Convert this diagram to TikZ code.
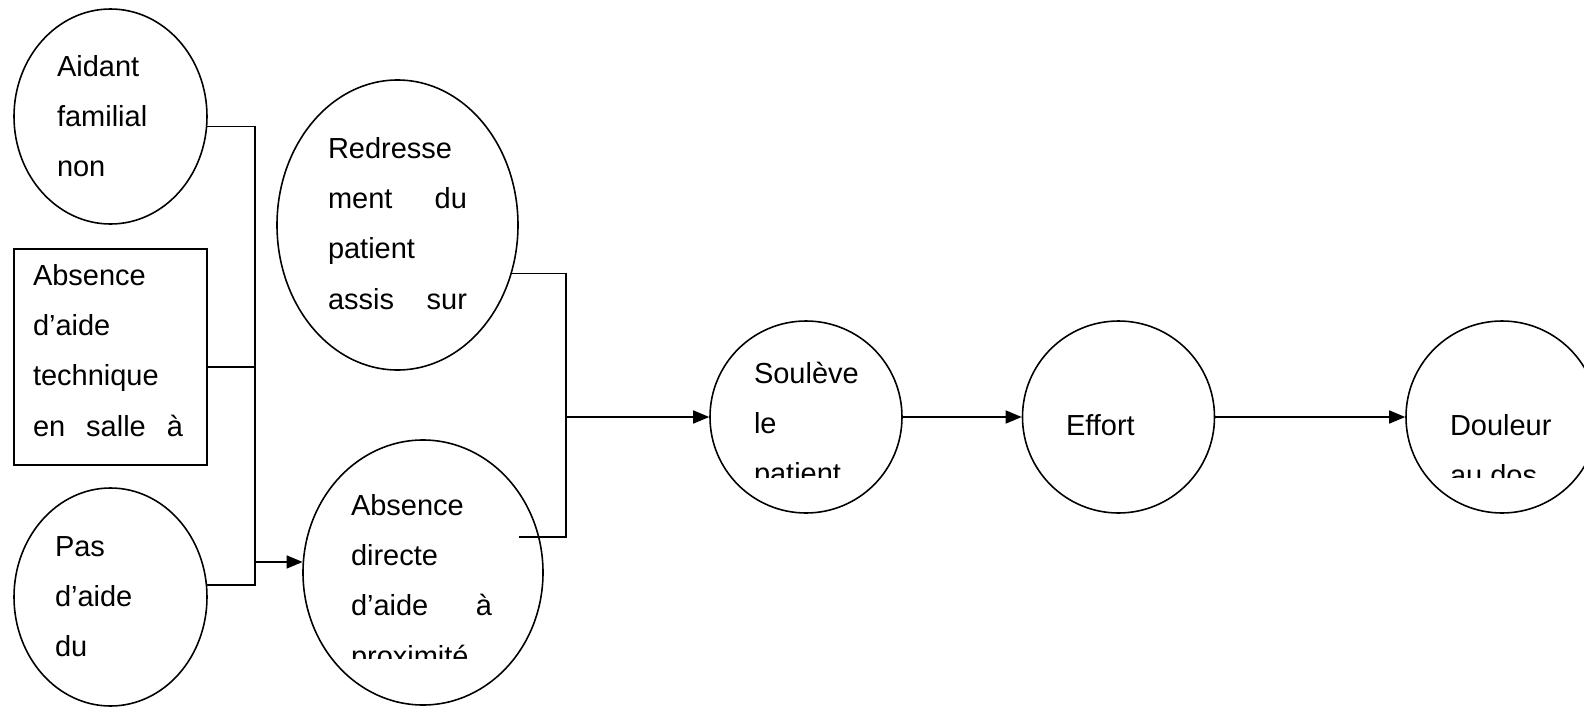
\documentclass[tikz,border=0pt]{standalone}
\usepackage{fontspec}
\setmainfont{Liberation Sans}
\usepackage{trimclip}
\usepackage{tikz}
\usetikzlibrary{positioning}
\usetikzlibrary{shapes,shapes.geometric,arrows.meta}
\tikzstyle{bubble} = [ellipse, draw, line width=0.9pt, inner sep=0pt, font=\fontsize{16.5}{28.7}\selectfont]
\tikzstyle{disc}   = [circle, draw, line width=0.9pt, inner sep=0pt, minimum size=3.84cm, font=\fontsize{16.5}{28.7}\selectfont]
\tikzstyle{panel}  = [rectangle, draw, line width=0.9pt, inner sep=0pt, font=\fontsize{16.5}{28.7}\selectfont]
\tikzstyle{wire}   = [draw, line width=0.9pt]
\tikzstyle{feed}   = [draw, line width=0.9pt, -{Triangle[length=3.2mm,width=2.6mm]}]
% text box of the shape: offset x, offset y of first baseline, width, visible depth, lines
\newcommand{\wordbox}[5]{\makebox[0pt][l]{\hspace*{#1}\raisebox{#2}[0pt][0pt]{\clipbox{0pt}{\parbox[t][\dimexpr #4+0.5cm\relax][t]{#3}{\rule{0pt}{0.5cm}#5}}}}}

\begin{document}
\begin{tikzpicture}[auto]
	\useasboundingbox (0,0) rectangle (31.68,-14.14);

	% place nodes
	\node [bubble, minimum width=3.86cm, minimum height=4.30cm] (aidant) at (2.21,-2.33)
		{\wordbox{-1.07cm}{0.81cm}{2.6cm}{2.4cm}{Aidant\\familial\\non}};
	\node [panel, below of=aidant, node distance=4.81cm, minimum width=3.86cm, minimum height=4.32cm] (techn)
		{\wordbox{-1.55cm}{1.44cm}{3.0cm}{3.4cm}{Absence\\d’aide\\technique\\en\hfill salle\hfill à}};
	\node [bubble, below of=techn, node distance=4.80cm, minimum width=3.86cm, minimum height=4.36cm] (pas)
		{\wordbox{-1.11cm}{0.82cm}{2.6cm}{2.4cm}{Pas\\d’aide\\du}};
	\node [bubble, minimum width=4.82cm, minimum height=5.80cm] (redr) at (7.95,-4.50)
		{\wordbox{-1.39cm}{1.34cm}{2.78cm}{3.4cm}{Redresse\\ment\hfill du\\patient\\assis\hfill sur}};
	\node [bubble, minimum width=4.80cm, minimum height=5.30cm] (absdir) at (8.46,-11.45)
		{\wordbox{-1.44cm}{1.15cm}{2.82cm}{2.86cm}{Absence\\directe\\d’aide\hfill à\\proximité}};
	\node [disc] (soul) at (16.12,-8.34)
		{\wordbox{-1.04cm}{0.68cm}{2.2cm}{1.88cm}{Soulève\\le\\patient}};
	\node [disc, right of=soul, node distance=6.25cm] (effort)
		{\wordbox{-1.05cm}{-0.36cm}{2.2cm}{0.5cm}{Effort}};
	\node [disc, right of=effort, node distance=7.67cm] (douleur)
		{\wordbox{-1.04cm}{-0.36cm}{2.2cm}{0.84cm}{Douleur\\au dos}};

	% draw edges
	\coordinate (busL) at (5.10,0);
	\coordinate (busR) at (11.32,0);
	\path [wire] (aidant.-6.7) -- (aidant.-6.7 -| busL) |- (pas.7.1);
	\path [wire] (techn.-6.3) -- (techn.-6.3 -| busL);
	\path [feed] (absdir.175 -| busL) -- (absdir.175);
	\path [wire] (redr.-23) -- (redr.-23 -| busR) |- ([xshift=-0.5cm,yshift=0.71cm]absdir.east);
	\path [feed] (soul.west -| busR) -- (soul.west);
	\path [feed] (soul) -- (effort);
	\path [feed] (effort) -- (douleur);
\end{tikzpicture}
\end{document}
